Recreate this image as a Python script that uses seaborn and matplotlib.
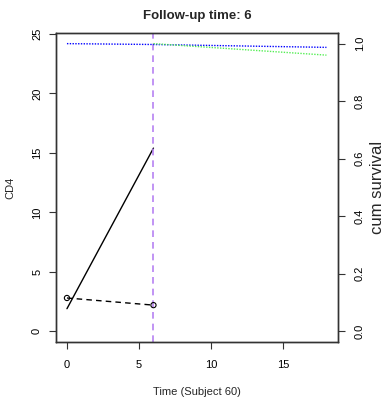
import numpy as np
import pandas as pd
import matplotlib
matplotlib.use("Agg")
from matplotlib import pyplot as plt
import seaborn as sns

# data
fit_time = [0, 6]
fit_cd4 = [1.9, 15.4]
obs_time = [0, 6]
obs_cd4 = [2.8, 2.2]
surv_time_blue = [0, 6, 18]
surv_blue = [1.0, 0.997, 0.987]
surv_time_green = [6, 18]
surv_green = [1.0, 0.96]
followup = 6

sns.set_style("ticks")
plt.rcParams['font.family'] = ['Liberation Sans', 'DejaVu Sans']

fig = plt.figure(figsize=(3.87, 3.97), dpi=100)
ax = fig.add_axes([56 / 387, 1 - 342 / 397, (338 - 56) / 387, (342 - 33) / 397])

sns.lineplot(x=fit_time, y=fit_cd4, ax=ax, color="black", linewidth=1)
sns.lineplot(x=obs_time, y=obs_cd4, ax=ax, color="black", linewidth=1,
             linestyle=(0, (4, 3)))
ax.scatter(obs_time, obs_cd4, s=14, facecolors="none", edgecolors="black",
           linewidths=0.8, zorder=3)
ax.axvline(followup, color="#b681f2", linestyle=(0, (4, 3)), linewidth=1.2)

ax.set_xlim(-0.76, 18.8)
ax.set_ylim(-0.9, 25.08)
ax.set_xticks([0, 5, 10, 15])
ax.set_yticks([0, 5, 10, 15, 20, 25])
ax.tick_params(labelsize=8, length=5, width=0.8, colors="#333333", labelcolor="black")
ax.tick_params(axis="x", pad=8)
ax.tick_params(axis="y", pad=5)
plt.setp(ax.get_yticklabels(), rotation=90, va="center")
ax.set_xlabel("Time (Subject 60)", fontsize=8, labelpad=12)
ax.set_ylabel("CD4", fontsize=8, labelpad=12)
ax.set_title("Follow-up time: 6", fontsize=9.5, fontweight="bold", pad=10)
for s in ax.spines.values():
    s.set_linewidth(1)
    s.set_color("#333333")

ax2 = ax.twinx()
sns.lineplot(x=surv_time_blue, y=surv_blue, ax=ax2, color="blue",
             linestyle=(0, (1, 1)), linewidth=1)
sns.lineplot(x=surv_time_green, y=surv_green, ax=ax2, color="#55ee55",
             linestyle=(0, (1, 1)), linewidth=1)
ax2.set_ylim(-0.038, 1.037)
ax2.set_yticks([0, 0.2, 0.4, 0.6, 0.8, 1.0])
ax2.set_yticklabels(["0.0", "0.2", "0.4", "0.6", "0.8", "1.0"])
ax2.tick_params(labelsize=8, length=5, width=0.8, pad=7, colors="#333333", labelcolor="black")
plt.setp(ax2.get_yticklabels(), rotation=90, va="center")
ax2.set_ylabel("cum survival", fontsize=12, labelpad=4)
for s in ax2.spines.values():
    s.set_linewidth(1)
    s.set_color("#333333")

fig.savefig("out.png", dpi=100)
